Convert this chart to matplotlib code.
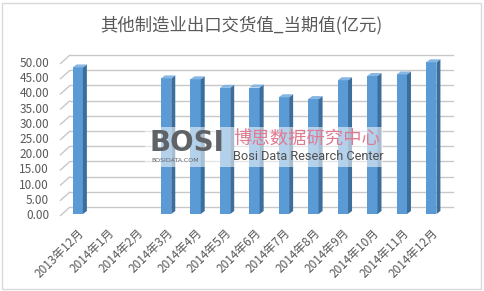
import numpy as np
import matplotlib
matplotlib.use("Agg")
import matplotlib.pyplot as plt
from matplotlib.patches import Polygon, Rectangle
from matplotlib.transforms import IdentityTransform, ScaledTranslation

plt.rcParams['font.family'] = ['Noto Sans CJK SC', 'DejaVu Sans']

# dados
meses = ['2013年12月', '2014年1月', '2014年2月', '2014年3月', '2014年4月',
         '2014年5月', '2014年6月', '2014年7月', '2014年8月', '2014年9月',
         '2014年10月', '2014年11月', '2014年12月']
valores = [48.2, np.nan, np.nan, 44.6, 44.3, 41.5, 41.6, 38.4, 37.8,
           44.0, 45.4, 45.9, 49.9]
ticks_y = [0, 5, 10, 15, 20, 25, 30, 35, 40, 45, 50]
titulo = '其他制造业出口交货值_当期值(亿元)'

W, H = 484, 291
cor_frente = '#5B9BD5'
cor_lado = '#3B6E9C'
cor_topo = '#86B6E2'
cor_texto = '#595959'
cor_grelha = '#C8C8C8'

fig = plt.figure(figsize=(W / 100, H / 100), dpi=100)
fig.patch.set_facecolor('white')
px = IdentityTransform()

# eixo no plano das barras
ax = fig.add_axes([63 / W, 1 - 214 / H, (446 - 63) / W, 152 / H])
ax.set_facecolor('none')
ax.set_axisbelow(True)
for s in ax.spines.values():
    s.set_visible(False)

x = np.arange(len(meses))
ax.set_xlim(-0.5, len(meses) - 0.5)
ax.set_ylim(0, 50)
ax.set_yticks(ticks_y)
ax.set_yticklabels([f'{t:.2f}' for t in ticks_y], fontsize=8.5, color=cor_texto)
ax.set_xticks(x)
ax.set_xticklabels(meses, rotation=45, ha='right', va='top',
                   rotation_mode='anchor', fontsize=8.5, color=cor_texto)
ax.tick_params(axis='both', length=0)
ax.tick_params(axis='y', pad=10)
ax.tick_params(axis='x', pad=9)

# grelha na parede de trás (efeito 3D): deslocada 7 px para a direita e para cima
dx_w, dy_w = 7, 7
ax.yaxis.grid(True, color=cor_grelha, lw=1.0)
desloc = ScaledTranslation(dx_w / 100, dy_w / 100, fig.dpi_scale_trans)
for linha in ax.get_ygridlines():
    linha.set_transform(linha.get_transform() + desloc)
    linha.set_clip_on(False)

# linhas oblíquas da parede lateral
for t in ticks_y:
    x0, y0 = ax.transData.transform((-0.5, t))
    fig.add_artist(Polygon([[x0 - 3, y0 - 2], [x0 + dx_w, y0 + dy_w]],
                           closed=False, fill=False, transform=px,
                           edgecolor=cor_grelha, lw=1.0, zorder=1))

# barras (face da frente)
largura = 0.35
ax.bar(x, valores, width=largura, color=cor_frente, zorder=3)

# faces lateral e de topo
dx, dy = 4, 3
for xi, v in zip(x, valores):
    if np.isnan(v):
        continue
    xl, yb = ax.transData.transform((xi - largura / 2, 0))
    xr, yt = ax.transData.transform((xi + largura / 2, v))
    lado = Polygon([[xr, yb], [xr, yt], [xr + dx, yt + dy], [xr + dx, yb + dy]],
                   closed=True, transform=px, facecolor=cor_lado,
                   edgecolor='none', zorder=4)
    topo = Polygon([[xl, yt], [xr, yt], [xr + dx, yt + dy], [xl + dx, yt + dy]],
                   closed=True, transform=px, facecolor=cor_topo,
                   edgecolor='none', zorder=4)
    fig.add_artist(lado)
    fig.add_artist(topo)

# título
fig.text(241 / W, 1 - 25 / H, titulo, ha='center', va='center',
         fontsize=12.5, color=cor_texto)

# marca de água
fig.add_artist(Rectangle((145 / W, 1 - 167 / H), 238 / W, 40 / H,
                         transform=fig.transFigure, facecolor='white',
                         alpha=0.55, edgecolor='none', zorder=5))
fig.text(150 / W, 1 - 143 / H, 'BOSI', ha='left', va='center', fontsize=20,
         fontweight='bold', color='#5f6368', family='DejaVu Sans', zorder=6)
fig.text(151 / W, 1 - 161 / H, 'BOSIDATA.COM', ha='left', va='center',
         fontsize=4.5, color='#5f6368', family='DejaVu Sans', zorder=6)
fig.text(233 / W, 1 - 140 / H, '博思数据研究中心', ha='left', va='center',
         fontsize=13.2, color='#E07A90', zorder=6)
fig.text(233 / W, 1 - 157 / H, 'Bosi Data Research Center', ha='left',
         va='center', fontsize=9.2, color='#505050',
         family=['Roboto', 'DejaVu Sans'], zorder=6)

# moldura
fig.add_artist(Rectangle((2 / W, 2 / H), (W - 5) / W, (H - 5) / H,
                         transform=fig.transFigure, facecolor='none',
                         edgecolor='#D9D9D9', lw=1, zorder=0))

fig.savefig('out.png', dpi=100)
